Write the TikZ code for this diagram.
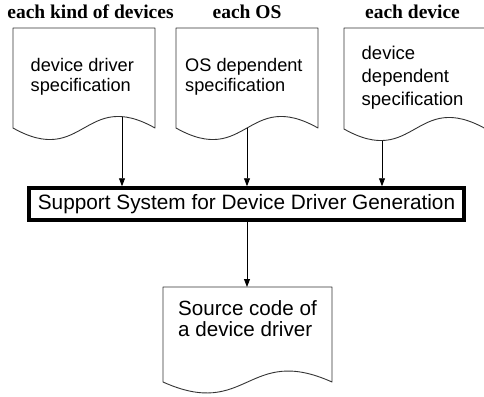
\documentclass[tikz,border=0pt]{standalone}
\usepackage{fontspec}
\setmainfont{Liberation Sans}
\newfontfamily\headfont{Liberation Serif}
\usetikzlibrary{arrows.meta}

\tikzset{
  docshape/.style={draw=black!80, line width=0.9pt, line join=round},
  doctext/.style={anchor=base west, inner sep=0pt, align=left,
    font=\fontsize{18.2}{20}\selectfont},
  talldoctext/.style={doctext, font=\fontsize{18.5}{23}\selectfont},
  bigdoctext/.style={doctext, font=\fontsize{20.6}{21.7}\selectfont},
  heading/.style={anchor=base, inner sep=0pt,
    font=\headfont\bfseries\fontsize{19.5}{22}\selectfont},
  flow/.style={draw=black, line width=0.9pt,
    -{Triangle[length=8pt,width=6pt]}},
  mainbox/.style={draw=black, line width=3.5pt, minimum width=435pt,
    minimum height=32pt, inner sep=0pt, font=\fontsize{20.8}{24}\selectfont},
}

% document symbol: left, top, right, bottom of the sides, wave depth
\newcommand\docsymbol[5]{%
  \draw[docshape] (#1,#4) -- (#1,#2) -- (#3,#2) -- (#3,#4)
    .. controls ({(#1+#3)/2},{#4-#5}) and ({(#1+#3)/2},{#4+#5}) .. cycle;}

\begin{document}
\begin{tikzpicture}[x=1pt,y=-1pt]
  \clip (0,0) rectangle (484,396);

  % headings
  \node[heading] (h1) at (90.5,18.5) {each kind of devices};
  \node[heading] (h2) at (247,18.5) {each OS};
  \node[heading] (h3) at (412.5,18.5) {each device};

  % input documents (text anchored at the baseline of its last line)
  \docsymbol{13}{28}{155}{128}{40}
  \node[doctext] (d1) at (30.5,91.7) {device driver\\specification};
  \coordinate (w1) at (122,116.7);

  \docsymbol{176}{28}{318}{128}{40}
  \node[doctext] (d2) at (185,91) {OS dependent\\specification};
  \coordinate (w2) at (247,128);

  \docsymbol{344}{28}{486}{129}{40}
  \node[talldoctext] (d3) at (361.5,105.5) {device\\dependent\\specification};
  \coordinate (w3) at (382,140.5);

  % generator
  \node[mainbox] (gen) at (246.5,204) {Support System for Device Driver Generation};

  % output document
  \docsymbol{163}{287}{332}{382}{38}
  \node[bigdoctext] (d4) at (178,336.7) {Source code of\\a device driver};
  \coordinate (top4) at (247,287);

  % connectors
  \draw[flow] (w1) -- (w1 |- gen.north);
  \draw[flow] (w2) -- (w2 |- gen.north);
  \draw[flow] (w3) -- (w3 |- gen.north);
  \draw[flow] (gen.south -| top4) -- (top4);
\end{tikzpicture}
\end{document}
